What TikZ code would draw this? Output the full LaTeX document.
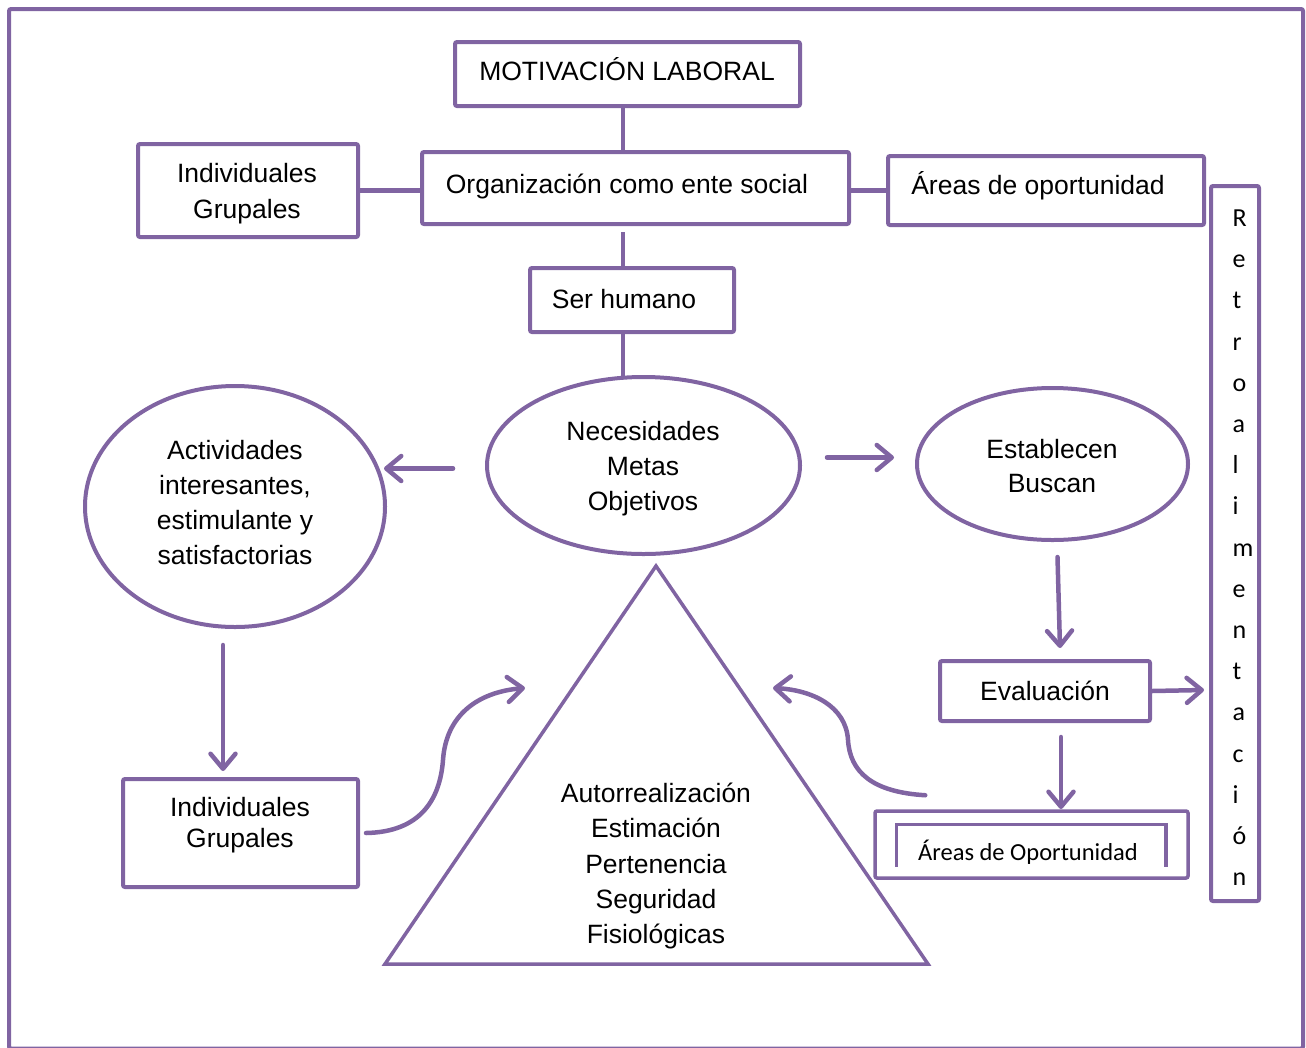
\documentclass[tikz,border=0pt]{standalone}
\usepackage{fontspec}
\setmainfont{Liberation Sans}
\newfontfamily\calibrifont{Carlito}
\usetikzlibrary{shapes.geometric,arrows.meta,calc}
\definecolor{vio}{HTML}{8064A2}
\begin{document}
\begin{tikzpicture}[x=1pt,y=-1pt,
  frame/.style={draw=vio,line width=4pt,rounded corners=2pt,inner sep=0pt},
  oval/.style={ellipse,draw=vio,line width=4pt,inner sep=0pt},
  txt/.style={font=\fontsize{26.5}{35}\selectfont,align=center,inner sep=0pt,anchor=base},
  link/.style={draw=vio,line width=4.5pt},
  arr/.style={draw=vio,line width=4.5pt,line cap=round,
    -{Straight Barb[length=15pt,width=25pt,round]}},
]
\useasboundingbox (0,0) rectangle (1306,1047);

% outer frame
\draw[vio,line width=4pt,rounded corners=2pt] (9,9) rectangle (1303,1048.5);

% boxes
\node[frame,minimum width=345,minimum height=64] (mot) at (627.5,74) {};
\node[frame,minimum width=427,minimum height=72] (org) at (635.5,188) {};
\node[frame,minimum width=220,minimum height=93] (ind1) at (248,190.5) {};
\node[frame,minimum width=316,minimum height=69] (are1) at (1046,190.5) {};
\node[frame,minimum width=204,minimum height=64] (ser) at (632,300) {};
\node[frame,minimum width=210,minimum height=60] (eval) at (1045,691) {};
\node[frame,minimum width=235,minimum height=108] (ind2) at (240.5,833) {};
\node[frame,minimum width=313,minimum height=67,line width=3.5pt] (are2) at (1031.5,844.5) {};
\node[frame,minimum width=48,minimum height=715] (retro) at (1235,543.5) {};

% ellipses
\node[oval,minimum width=300,minimum height=241] (act) at (235,506.5) {};
\node[oval,minimum width=313,minimum height=177] (nec) at (643.5,465.5) {};
\node[oval,minimum width=271,minimum height=152] (est) at (1052.5,464) {};

% pyramid
\coordinate (apex) at (656,566);
\coordinate (bl) at (385,964);
\coordinate (br) at (928,964);
\draw[vio,line width=3.5pt,line join=miter] (apex) -- (bl) -- (br) -- cycle;

% texts (multi-line nodes sit on the baseline of their last line)
\node[txt] (tmot) at (627,80) {MOTIVACIÓN LABORAL};
\node[txt] (torg) at (627,193) {Organización como ente social};
\node[txt,font=\fontsize{26.5}{36}\selectfont] (tind1) at (247,218.5) {Individuales\\Grupales};
\node[txt] (tare1) at (1038,194.5) {Áreas de oportunidad};
\node[txt] (tser) at (624,308.5) {Ser humano};
\node[txt] (tnec) at (643,510.5) {Necesidades\\Metas\\Objetivos};
\node[txt] (tact) at (235,564.5) {Actividades\\interesantes,\\estimulante y\\satisfactorias};
\node[txt,font=\fontsize{26.5}{34}\selectfont] (test) at (1052,492.5) {Establecen\\Buscan};
\node[txt] (teval) at (1045,700.5) {Evaluación};
\node[txt,font=\fontsize{26.5}{31}\selectfont] (tind2) at (240,847.5) {Individuales\\Grupales};
\node[txt,font=\fontsize{26.5}{35.25}\selectfont] (tpyr) at (656,943.5)
  {Autorrealización\\Estimación\\Pertenencia\\Seguridad\\Fisiológicas};
\node[txt,font=\calibrifont\fontsize{24.5}{30}\selectfont] (tare2) at (1028,860) {Áreas de Oportunidad};
\node[inner sep=0pt,anchor=base west,align=left,font=\calibrifont\fontsize{26}{41.2}\selectfont]
  (tretro) at (1232.5,885.6)
  {R\\e\\t\\r\\o\\a\\l\\i\\m\\e\\n\\t\\a\\c\\i\\ó\\n};

% inner bracket of the lower opportunity box
\draw[vio,line width=3.5pt]
  ($(are2.south west)+(23,-13)$) -- ($(are2.north west)+(23,15)$)
  -- ($(are2.north east)+(-24,15)$) -- ($(are2.south east)+(-24,-13)$);

% straight connectors
\coordinate (axis) at (623,0);
\draw[link] (mot.south -| axis) -- (org.north -| axis);
\draw[link] (ind1.east) -- (ind1.east -| org.west);
\draw[link] (org.east |- are1.west) -- (are1.west);
\draw[link] ($(org.south -| axis)+(0,6)$) -- (ser.north -| axis);
\draw[link] (ser.south -| axis) -- ($(nec.north -| axis)+(0,2)$);

% arrows
\draw[arr] ($(nec.west)+(-32,3)$) -- ++(-69,0);
\draw[arr] ($(nec.east)+(25,-8)$) -- ++(67,0);
\draw[arr] ($(est.south)+(5,15)$) -- ($(eval.north)+(15,-11)$);
\draw[arr] (eval.east) -- ++(52,-1);
\draw[arr] ($(eval.south)+(16,14)$) -- ($(eval.south)+(16,86)$);
\draw[arr] ($(act.south)+(-12,16)$) -- ($(act.south)+(-12,142)$);

% curved arrows
\coordinate (c1s) at ($(ind2.east)+(6,0)$);
\coordinate (c1e) at (525,688);
\draw[arr] (c1s) .. controls (420,832) and (440,800) .. (443,760)
  .. controls (446,715) and (478,692) .. (c1e);
\coordinate (c2s) at ($(are2.north west)+(52,-14)$);
\coordinate (c2e) at (773,688);
\draw[arr] (c2s) .. controls (872,792) and (850,772) .. (848,740)
  .. controls (846,706) and (812,690) .. (c2e);
\end{tikzpicture}
\end{document}
